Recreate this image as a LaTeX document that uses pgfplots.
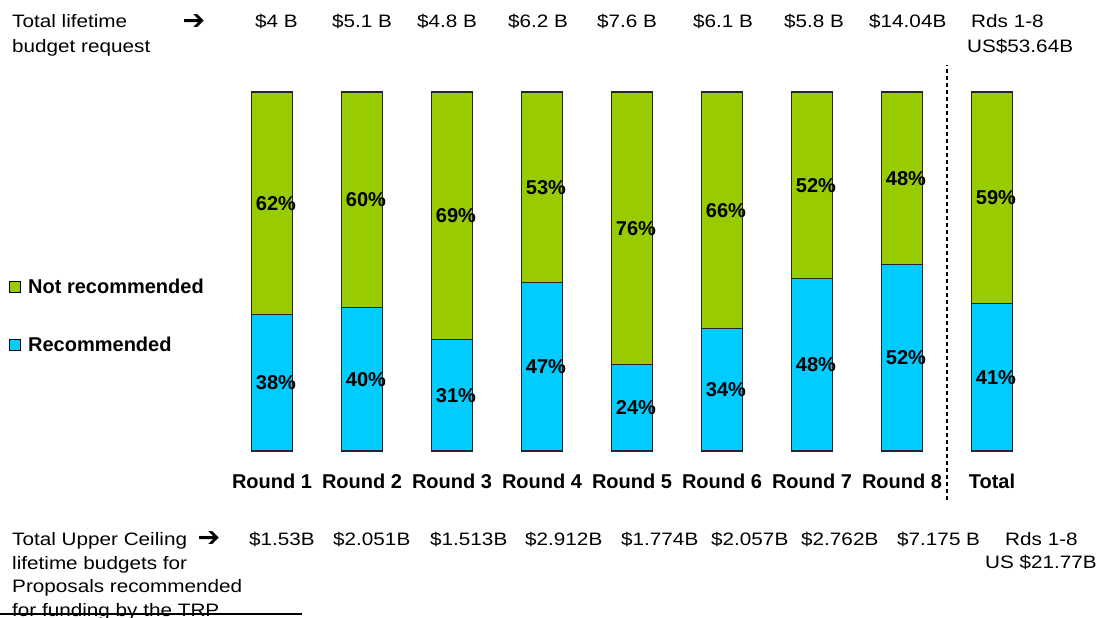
\documentclass[border=0pt]{standalone}
\usepackage{pgfplots}
\pgfplotsset{compat=1.18}
\usepackage{fontspec}
\setmainfont{Liberation Sans}
\newfontfamily\regf{Liberation Sans}[FakeStretch=1.15]
\newfontfamily\symf{DejaVu Sans}
\definecolor{grn}{HTML}{99CC00}
\definecolor{blu}{HTML}{00CCFF}

% segment shares (percent) per round, last column = total
\pgfplotstableread{
x rec notrec
1 38 62
2 40 60
3 31 69
4 47 53
5 24 76
6 34 66
7 48 52
8 52 48
9 41 59
}\shares
% label positions = middle of each segment
\pgfplotstableread{
x y v
1 19 38
1 69 62
2 20 40
2 70 60
3 15.5 31
3 65.5 69
4 23.5 47
4 73.5 53
5 12 24
5 62 76
6 17 34
6 67 66
7 24 48
7 74 52
8 26 52
8 76 48
9 20.5 41
9 70.5 59
}\labels

\newcommand{\bigb}{\bfseries\fontsize{20bp}{24bp}\selectfont}
\newcommand{\reg}{\regf\fontsize{18bp}{22bp}\selectfont}

\pgfplotsset{
  frame/.style={
    scale only axis, width=1099bp, height=359bp,
    xmin=-2.0222, xmax=10.1889, ymin=0, ymax=100,
    enlargelimits=false, clip=false,
    axis line style={draw=none}, tick style={draw=none},
    ytick=\empty,
    /pgf/number format/assume math mode=true,
  }
}

\begin{document}
\begin{tikzpicture}
\begin{axis}[frame,
  ybar stacked, bar width=41bp,
  xtick={1,...,9},
  xticklabels={Round 1,Round 2,Round 3,Round 4,Round 5,Round 6,Round 7,Round 8,Total},
  xticklabel style={font=\bigb, anchor=base, yshift=-37bp},
  reverse legend,
  legend cell align=left,
  legend style={at={(axis description cs:0.008,0.484)}, anchor=north west,
    draw=none, fill=none, font=\bigb, row sep=38bp, inner sep=0pt,
    /tikz/every odd column/.append style={column sep=5bp}},
  ]
\addplot[fill=blu, draw=black!85, line width=1.1bp,
  legend image code/.code={\draw[fill=blu, draw=black, line width=1.2bp] (0bp,-5bp) rectangle (11bp,6bp);}]
  table[x=x, y=rec] {\shares};
\addlegendentry{Recommended}
\addplot[fill=grn, draw=black!85, line width=1.1bp,
  legend image code/.code={\draw[fill=grn, draw=black, line width=1.2bp] (0bp,-5bp) rectangle (11bp,6bp);}]
  table[x=x, y=notrec] {\shares};
\addlegendentry{Not recommended}
\end{axis}

\begin{axis}[frame, xtick=\empty]
\addplot[draw=none, mark=none, nodes near coords, point meta=explicit,
  nodes near coords={\pgfmathprintnumber[fixed,precision=0]{\pgfplotspointmeta}\%},
  nodes near coords style={font=\bigb, anchor=center, xshift=4bp}]
  table[x=x, y=y, meta=v] {\labels};
\addplot[black, line width=1.3bp, dash pattern=on 4bp off 3bp]
  coordinates {(8.5,-13.6) (8.5,107.5)};
\end{axis}

% top annotation row
\begin{scope}[every node/.style={anchor=base west, inner sep=0pt, font=\reg}]
\node at (12bp,423bp) {Total lifetime};
\node at (12bp,398.5bp) {budget request};
\node at (255bp,423bp) {\$4 B};
\node at (332bp,423bp) {\$5.1 B};
\node at (417bp,423bp) {\$4.8 B};
\node at (508bp,423bp) {\$6.2 B};
\node at (597bp,423bp) {\$7.6 B};
\node at (693bp,423bp) {\$6.1 B};
\node at (784bp,423bp) {\$5.8 B};
\node at (869bp,423bp) {\$14.04B};
\node at (971bp,423bp) {Rds 1-8};
\node at (967bp,398.5bp) {US\$53.64B};
% bottom annotation rows
\node at (12bp,-94.7bp) {Total Upper Ceiling};
\node at (12bp,-118.2bp) {lifetime budgets for};
\node at (12bp,-141.7bp) {Proposals recommended};
\node at (12bp,-165.2bp) {for funding by the TRP};
\node at (249bp,-94.7bp) {\$1.53B};
\node at (333bp,-94.7bp) {\$2.051B};
\node at (430bp,-94.7bp) {\$1.513B};
\node at (525bp,-94.7bp) {\$2.912B};
\node at (621bp,-94.7bp) {\$1.774B};
\node at (711bp,-94.7bp) {\$2.057B};
\node at (801bp,-94.7bp) {\$2.762B};
\node at (897bp,-94.7bp) {\$7.175 B};
\node at (1005bp,-94.7bp) {Rds 1-8};
\node at (985bp,-117bp) {US \$21.77B};
\end{scope}
\node[inner sep=0pt, font=\symf\fontsize{27bp}{30bp}\selectfont] at (194bp,429bp) {➔};
\node[inner sep=0pt, font=\symf\fontsize{27bp}{30bp}\selectfont] at (209bp,-88bp) {➔};
\draw[line width=1.5bp] (0bp,-163bp) -- (302bp,-163bp);

\pgfresetboundingbox
\useasboundingbox (0bp,-167bp) rectangle (1099bp,451bp);
\end{tikzpicture}
\end{document}
